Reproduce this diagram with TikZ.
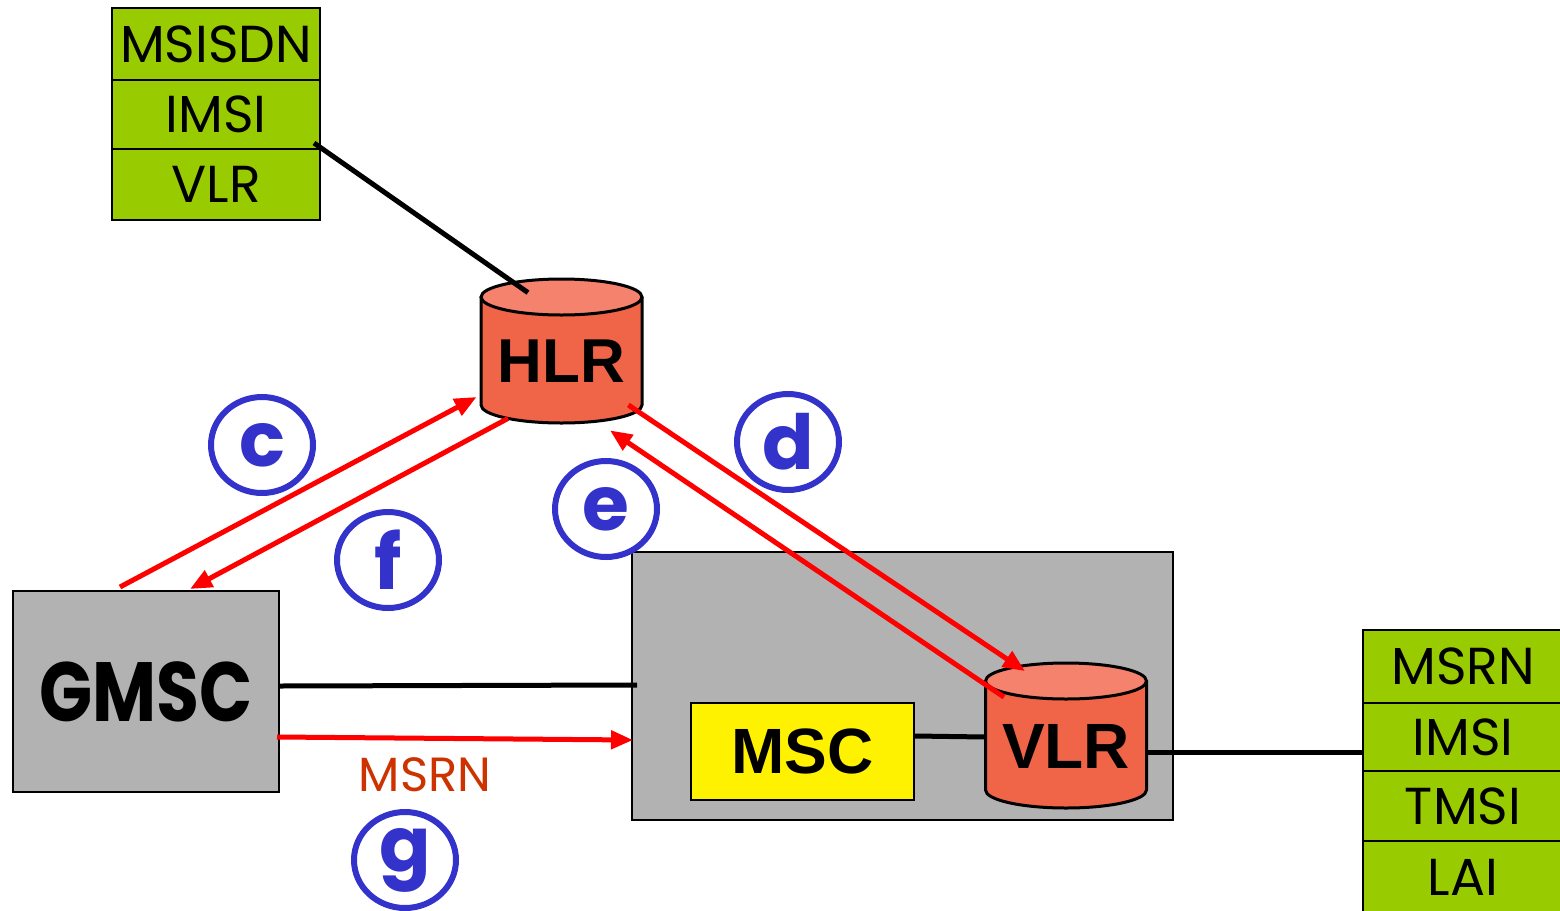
\documentclass[tikz,border=0pt]{standalone}
\usepackage{fontspec}
\setmainfont{Liberation Sans}
\newfontfamily\comic{Poppins}
\usetikzlibrary{arrows.meta,shapes.geometric}
\definecolor{cellgreen}{HTML}{99CC00}
\definecolor{boxgrey}{HTML}{B2B2B2}
\definecolor{cylbody}{HTML}{F06448}
\definecolor{cyltop}{HTML}{F4826C}
\definecolor{cblue}{HTML}{3333CC}
\definecolor{msrnred}{HTML}{CC3300}
\newcommand\drawcyl[3]{%
  \fill[cylbody] (#1-80.5,#2) rectangle (#1+80.5,#3);
  \fill[cylbody] (#1,#3) ellipse [x radius=80.5, y radius=18];
  \draw[line width=1.5pt] (#1-80.5,#2) -- (#1-80.5,#3) arc[start angle=180,end angle=0,x radius=80.5,y radius=18] -- (#1+80.5,#2);
  \filldraw[fill=cyltop, line width=1.5pt] (#1,#2) ellipse [x radius=80.5, y radius=18];
}
\tikzset{
  cell/.style={draw=black, line width=1pt, fill=cellgreen, minimum width=104pt, inner sep=0pt,
    font=\comic\fontsize{26}{26}\selectfont},
  greybox/.style={draw=black, line width=1pt, fill=boxgrey, inner sep=0pt},
  cyllabel/.style={inner sep=0pt, minimum width=80.5pt, minimum height=72pt, font=\bfseries\fontsize{31}{31}\selectfont},
  circ/.style={ellipse, draw=cblue, line width=3pt, minimum width=51pt, minimum height=48pt, inner sep=0pt,
    text=cblue, font=\comic\bfseries\fontsize{38}{38}\selectfont},
  link/.style={line width=2.5pt, black},
  msg/.style={line width=2.5pt, red, -{Triangle[length=11pt,width=9pt]}},
}
\begin{document}
\begin{tikzpicture}[x=0.5pt,y=-0.5pt]
\useasboundingbox (0,0) rectangle (1560,911);
\fill[white] (0,0) rectangle (1560,911);

% group box with MSC and VLR
\node[greybox, minimum width=270.5pt, minimum height=134pt] (grp) at (902.5,686) {};
\node[draw=black, line width=1pt, fill=yellow, minimum width=111.5pt, minimum height=48.5pt, inner sep=0pt,
  font=\bfseries\fontsize{32}{32}\selectfont] (msc) at (802.5,751.5) {MSC};
\drawcyl{1066}{681}{790}
\node[cyllabel] (vlr) at (1066,735.5) {};
\node[font=\bfseries\fontsize{32}{32}\selectfont] (vlrtxt) at (1066,746) {VLR};

% HLR
\drawcyl{561.5}{297}{405}
\node[cyllabel] (hlr) at (561.5,351) {};
\node[font=\bfseries\fontsize{31}{31}\selectfont] (hlrtxt) at (561.5,361) {HLR};

% HLR table
\node[cell, minimum height=36pt] (lt1) at (216,44) {MSISDN};
\node[cell, minimum height=34.5pt] (lt2) at (216,114.5) {IMSI};
\node[cell, minimum height=35.5pt] (lt3) at (216,184.5) {VLR};

% VLR table
\node[cell, minimum width=100pt, minimum height=36.5pt] (rt1) at (1463,666.5) {MSRN};
\node[cell, minimum width=100pt, minimum height=34pt] (rt2) at (1463,737) {IMSI};
\node[cell, minimum width=100pt, minimum height=35pt] (rt3) at (1463,806) {TMSI};
\node[cell, minimum width=100pt, minimum height=36pt] (rt4) at (1463,877) {LAI};

% GMSC
\node[greybox, minimum width=133pt, minimum height=100.5pt,
  font=\comic\bfseries\fontsize{42}{42}\selectfont] (gmsc) at (146,691.5) {\scalebox{0.83}[1]{GMSC}};

% black links
\draw[link] ([xshift=-3.5pt,yshift=-14.25pt]lt2.east) -- ([xshift=-16.75pt,yshift=-7pt]hlr.north);
\draw[link] ([yshift=2.75pt]gmsc.east) -- ([xshift=3pt,yshift=0.5pt]grp.west);
\draw[link] ([yshift=7.75pt]msc.east) -- ([yshift=-0.75pt]vlr.west);
\draw[link] ([yshift=-8.25pt]vlr.east) -- ([yshift=-7.5pt]rt2.west);

% red messages
\draw[msg] ([xshift=-13pt,yshift=1.5pt]gmsc.north) -- ([xshift=-2pt,yshift=-23pt]hlr.west);
\draw[msg] ([xshift=-26.75pt,yshift=2.5pt]hlr.south) -- ([xshift=22pt,yshift=0.5pt]gmsc.north);
\draw[msg] ([xshift=-7pt,yshift=-27pt]hlr.east) -- ([xshift=-20.5pt,yshift=-4pt]vlr.north);
\draw[msg] ([xshift=-31pt,yshift=-17pt]vlr.north) -- ([xshift=24.25pt,yshift=-3.5pt]hlr.south);
\draw[msg] ([xshift=-1.5pt,yshift=-22.75pt]gmsc.east) -- ([xshift=1pt,yshift=-27pt]grp.west);

% labels
\node[text=msrnred, font=\comic\fontsize{24}{24}\selectfont] (msrn) at (425,775) {MSRN};
\node[circ] (cc) at (262,445) {c};
\node[circ] (cd) at (788,442) {d};
\node[circ] (ce) at (606,509) {e};
\node[circ] (cf) at (388,560) {f};
\node[circ] (cg) at (405,860) {g};
\end{tikzpicture}
\end{document}
